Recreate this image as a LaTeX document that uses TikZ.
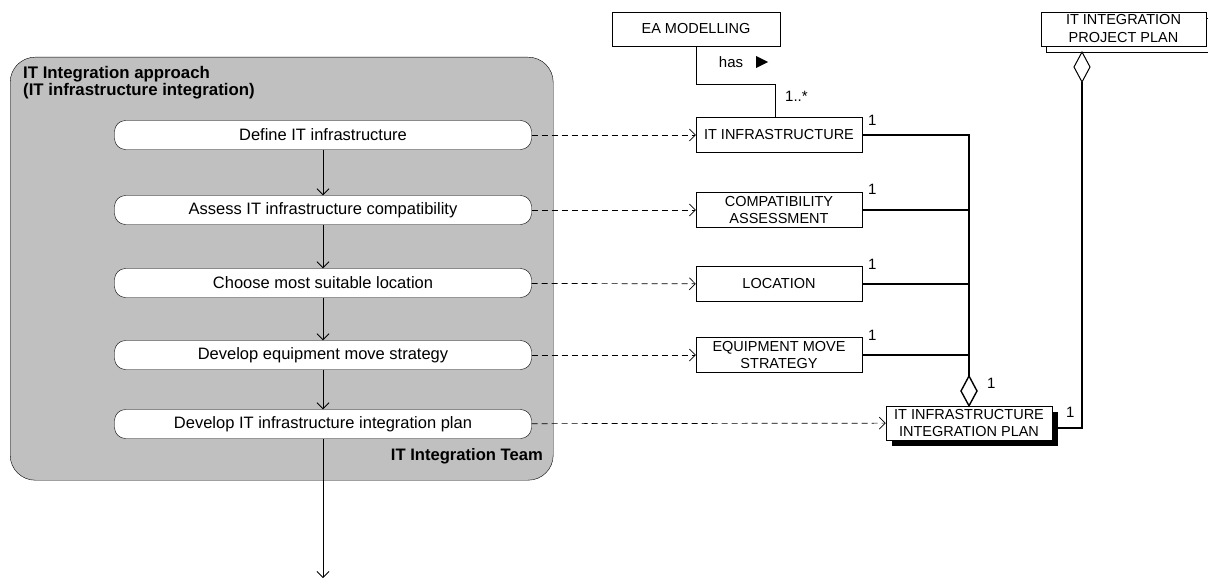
\documentclass[tikz,border=0pt]{standalone}
\usepackage{fontspec}
\setmainfont{Liberation Sans}
\usetikzlibrary{arrows.meta}
\definecolor{poolgray}{RGB}{192,192,192}
\begin{document}
\begin{tikzpicture}[x=1pt,y=-1pt,
  act/.style={draw,fill=white,rounded corners=11pt,minimum width=417pt,minimum height=29pt,inner sep=0pt,font=\fontsize{16.5}{19}\selectfont},
  cls/.style={draw,fill=white,minimum width=166pt,minimum height=35pt,inner sep=0pt,align=center,font=\fontsize{14.5}{16.5}\selectfont},
  flow/.style={-{Straight Barb[length=6pt,width=12pt]},line width=0.8pt},
  dep/.style={-{Straight Barb[length=6pt,width=12pt]},line width=0.7pt,dash pattern=on 6pt off 4pt},
  assoc/.style={line width=1.4pt},
  mult/.style={font=\fontsize{15}{17}\selectfont,inner sep=0pt},
  diam/.style={draw,fill=white,line width=1.4pt}
]
\useasboundingbox (0,0) rectangle (1208,586);
% container
\node[draw,fill=poolgray,rounded corners=25pt,minimum width=543pt,minimum height=423pt,anchor=north west,inner sep=0pt] (pool) at (10,57) {};
\node[anchor=north west,align=left,inner sep=0pt,font=\bfseries\fontsize{16.8}{17.5}\selectfont] (title) at (23,66) {IT Integration approach\\(IT infrastructure integration)};
\node[anchor=base east,inner sep=0pt,font=\bfseries\fontsize{16.6}{19}\selectfont] (team) at (543,460) {IT Integration Team};
% activities
\node[act] (a1) at (323,135) {Define IT infrastructure};
\node[act] (a2) at (323,210) {Assess IT infrastructure compatibility};
\node[act] (a3) at (323,283) {Choose most suitable location};
\node[act] (a4) at (323,355) {Develop equipment move strategy};
\node[act] (a5) at (323,424) {Develop IT infrastructure integration plan};
\coordinate (end) at (323,578);
\draw[flow] (a1) -- (a2);
\draw[flow] (a2) -- (a3);
\draw[flow] (a3) -- (a4);
\draw[flow] (a4) -- (a5);
\draw[flow] (a5) -- (end);
% classes
\node[cls,minimum width=168pt,minimum height=34pt] (ea) at (696,29) {EA MODELLING};
\node[cls] (inf) at (779,135) {IT INFRASTRUCTURE};
\node[cls] (cmp) at (779,210) {COMPATIBILITY\\ASSESSMENT};
\node[cls] (loc) at (779,284) {LOCATION};
\node[cls] (eqp) at (779,355) {EQUIPMENT MOVE\\STRATEGY};
\fill (892,412) rectangle (1058,446);
\node[cls,minimum height=34pt] (iip) at (969,423) {IT INFRASTRUCTURE\\INTEGRATION PLAN};
\draw[fill=white] (1046,18) rectangle (1214,52);
\node[cls,minimum width=165pt,minimum height=34pt,font=\fontsize{14.5}{18}\selectfont] (pp) at (1123.5,29) {IT INTEGRATION\\PROJECT PLAN};
% dependencies
\draw[dep] (a1) -- (inf);
\draw[dep] (a2) -- (cmp);
\draw[dep] (a3) -- (loc);
\draw[dep] (a4) -- (eqp);
\draw[dep] (a5) -- (iip);
% EA association
\coordinate (eaj1) at (696,84);
\coordinate (eaj2) at (775,84);
\draw[line width=0.9pt] (ea.south) -- (eaj1) -- (eaj2) -- (eaj2 |- inf.north);
\node[inner sep=0pt,font=\fontsize{15}{17}\selectfont,anchor=base] (has) at (731,67) {has};
\fill (756,56) -- (768,62) -- (756,68) -- cycle;
\node[mult,anchor=base west] (m0) at (785,102) {1..*};
% aggregation into integration plan
\coordinate (dtop) at (969,376);
\coordinate (j1) at (969,135);
\draw[assoc] (inf.east) -- (j1) -- (dtop);
\draw[assoc] (cmp.east) -- (cmp.east -| j1);
\draw[assoc] (loc.east) -- (loc.east -| j1);
\draw[assoc] (eqp.east) -- (eqp.east -| j1);
\draw[diam] (dtop) -- (977,391) -- (iip.north) -- (961,391) -- cycle;
\node[mult,anchor=base west] (m1) at (868,125) {1};
\node[mult,anchor=base west] (m2) at (868,194) {1};
\node[mult,anchor=base west] (m3) at (868,269) {1};
\node[mult,anchor=base west] (m4) at (868,340) {1};
\node[mult,anchor=base west] (m5) at (987,388) {1};
% aggregation into project plan
\coordinate (pd) at (1082,52);
\coordinate (pdb) at (1082,82);
\coordinate (pc) at (1082,428);
\draw[assoc] (pdb) -- (pc) -- (pc -| iip.east);
\draw[diam,line width=1pt] (pd) -- (1090,67) -- (pdb) -- (1074,67) -- cycle;
\node[mult,anchor=base west] (m6) at (1066,417) {1};
\end{tikzpicture}
\end{document}
